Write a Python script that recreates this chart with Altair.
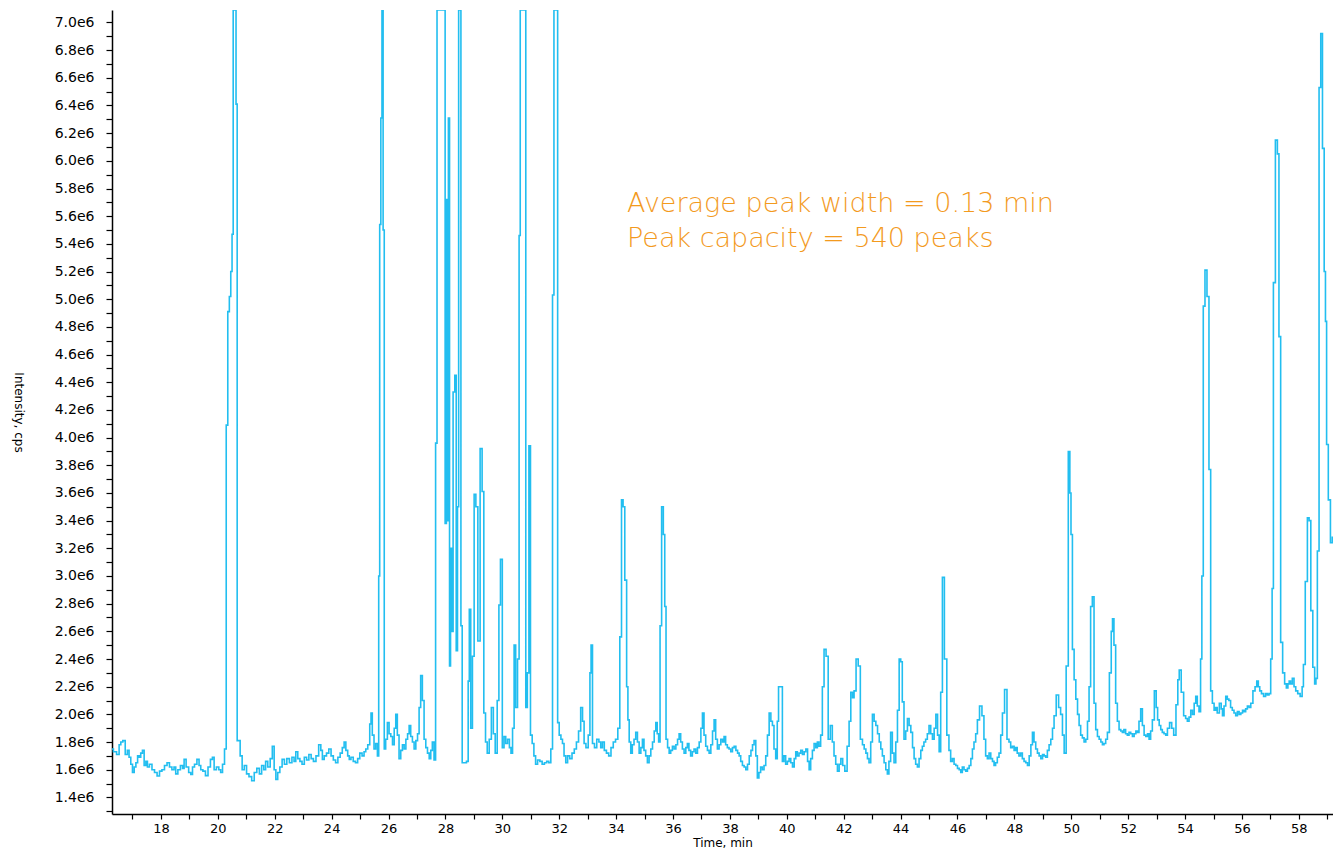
import altair as alt
import pandas as pd

# Chromatogram readings: (time in min, intensity in millions of cps)
seg_start = [
    (16.28, 1.75), (16.38, 1.73), (16.50, 1.71), (16.56, 1.78), (16.62, 1.80), (16.70, 1.81),
    (16.79, 1.71), (16.85, 1.74), (16.91, 1.69), (16.97, 1.64), (17.03, 1.58), (17.09, 1.62),
    (17.15, 1.65), (17.21, 1.70), (17.26, 1.69), (17.32, 1.72), (17.38, 1.74), (17.44, 1.63),
    (17.50, 1.66), (17.55, 1.62), (17.64, 1.64), (17.73, 1.60), (17.82, 1.58), (17.91, 1.555),
    (17.99, 1.59), (18.08, 1.60), (18.17, 1.63), (18.26, 1.65), (18.34, 1.62), (18.43, 1.60),
    (18.49, 1.62), (18.55, 1.57), (18.64, 1.60), (18.73, 1.63), (18.79, 1.61), (18.84, 1.675),
    (18.93, 1.62), (19.02, 1.58), (19.08, 1.566), (19.14, 1.62), (19.22, 1.64), (19.31, 1.675),
    (19.37, 1.63), (19.43, 1.60), (19.52, 1.59), (19.61, 1.557), (19.70, 1.62), (19.78, 1.675),
    (19.84, 1.69), (19.90, 1.60), (20.00, 1.62), (20.07, 1.60), (20.13, 1.58), (20.20, 1.64),
]
peak_20 = [
    (20.27, 1.75), (20.32, 4.09), (20.38, 4.91), (20.43, 5.02), (20.48, 5.20), (20.52, 5.47),
    (20.56, 7.09), (20.62, 7.09), (20.66, 6.41), (20.70, 1.81),
]
seg_21_25 = [
    (20.75, 1.81), (20.82, 1.70), (20.89, 1.60), (20.97, 1.63), (21.05, 1.57), (21.14, 1.55),
    (21.24, 1.52), (21.32, 1.58), (21.42, 1.61), (21.50, 1.57), (21.58, 1.63), (21.65, 1.60),
    (21.71, 1.66), (21.80, 1.62), (21.88, 1.68), (21.95, 1.77), (22.01, 1.60), (22.07, 1.53),
    (22.14, 1.58), (22.22, 1.62), (22.30, 1.675), (22.38, 1.64), (22.47, 1.68), (22.56, 1.65),
    (22.65, 1.69), (22.71, 1.66), (22.77, 1.73), (22.85, 1.68), (22.92, 1.66), (23.00, 1.64),
    (23.08, 1.69), (23.16, 1.67), (23.24, 1.71), (23.32, 1.68), (23.40, 1.66), (23.50, 1.70),
    (23.59, 1.78), (23.65, 1.74), (23.70, 1.675), (23.78, 1.70), (23.86, 1.72), (23.94, 1.75),
    (24.02, 1.70), (24.10, 1.67), (24.18, 1.65), (24.26, 1.69), (24.34, 1.72), (24.41, 1.76),
    (24.47, 1.80), (24.53, 1.74), (24.60, 1.70), (24.64, 1.675), (24.72, 1.69), (24.80, 1.66),
    (24.88, 1.65), (24.95, 1.68), (25.03, 1.72), (25.11, 1.70), (25.17, 1.73), (25.23, 1.75),
    (25.31, 1.78), (25.37, 1.93), (25.40, 2.01), (25.46, 1.85), (25.52, 1.75), (25.58, 1.79),
    (25.64, 1.70),
]
peak_25 = [
    (25.67, 3.00), (25.71, 5.54), (25.75, 6.31), (25.79, 7.09), (25.83, 5.50), (25.87, 1.75),
]
seg_26_27 = [
    (25.93, 1.82), (25.99, 1.94), (26.05, 1.86), (26.11, 1.84), (26.17, 1.78), (26.23, 1.90),
    (26.28, 2.00), (26.34, 1.85), (26.40, 1.68), (26.46, 1.74), (26.52, 1.78), (26.58, 1.75),
    (26.64, 1.82), (26.70, 1.86), (26.75, 1.92), (26.81, 1.84), (26.87, 1.80), (26.93, 1.75),
    (26.99, 1.81), (27.05, 1.86), (27.10, 2.05), (27.16, 2.28), (27.22, 2.10), (27.28, 1.82),
    (27.34, 1.76), (27.40, 1.72), (27.46, 1.68), (27.51, 1.74), (27.57, 1.80), (27.63, 1.67),
]
cluster_28_33 = [
    (27.68, 3.96), (27.73, 7.09), (27.80, 7.09), (27.88, 7.09), (27.96, 7.09), (28.02, 3.38),
    (28.05, 5.72), (28.08, 3.40), (28.13, 6.31), (28.16, 2.35), (28.20, 3.20), (28.24, 2.60),
    (28.30, 4.33), (28.36, 4.45), (28.40, 2.46), (28.45, 3.50), (28.48, 7.09), (28.53, 7.09),
    (28.56, 2.64), (28.62, 1.65), (28.70, 1.65), (28.78, 1.66), (28.82, 2.24), (28.86, 2.76),
    (28.92, 1.90), (28.98, 2.42), (29.04, 3.59), (29.10, 3.50), (29.18, 2.53), (29.26, 3.92),
    (29.32, 3.61), (29.38, 2.01), (29.44, 1.80), (29.50, 1.72), (29.58, 1.82), (29.65, 2.05),
    (29.72, 1.86), (29.78, 1.72), (29.86, 2.10), (29.90, 2.79), (29.97, 3.12), (30.03, 1.76),
    (30.09, 1.84), (30.15, 1.79), (30.22, 1.82), (30.28, 1.76), (30.33, 1.72), (30.39, 1.90),
    (30.44, 2.50), (30.50, 2.05), (30.57, 2.40), (30.61, 5.46), (30.65, 7.09), (30.72, 7.09),
    (30.80, 7.09), (30.85, 2.05), (30.91, 2.30), (30.96, 3.94), (31.02, 1.85), (31.08, 1.79),
    (31.14, 1.70), (31.20, 1.64), (31.28, 1.67), (31.36, 1.66), (31.44, 1.64), (31.52, 1.65),
    (31.60, 1.66), (31.67, 1.65), (31.74, 1.75), (31.79, 5.03), (31.84, 7.09), (31.92, 7.09),
    (31.97, 1.94), (32.03, 1.85), (32.09, 1.82), (32.14, 1.79), (32.20, 1.70), (32.26, 1.65),
    (32.33, 1.70), (32.41, 1.68), (32.49, 1.72), (32.57, 1.75), (32.64, 1.80), (32.72, 1.88),
    (32.79, 2.05), (32.85, 1.95), (32.90, 1.79), (32.98, 1.76), (33.06, 1.85), (33.10, 2.30),
    (33.14, 2.50), (33.20, 1.79), (33.28, 1.76), (33.36, 1.82), (33.43, 1.80),
]
seg_34_39 = [
    (33.49, 1.76), (33.55, 1.80), (33.62, 1.74), (33.70, 1.72), (33.78, 1.70), (33.86, 1.76),
    (33.94, 1.80), (34.02, 1.82), (34.10, 1.90), (34.16, 2.56), (34.22, 3.55), (34.27, 3.50),
    (34.34, 2.97), (34.40, 2.20), (34.43, 1.96), (34.49, 1.80), (34.54, 1.72), (34.60, 1.78),
    (34.66, 1.82), (34.72, 1.87), (34.78, 1.80), (34.84, 1.72), (34.90, 1.76), (34.95, 1.82),
    (35.01, 1.74), (35.07, 1.70), (35.13, 1.65), (35.19, 1.70), (35.25, 1.75), (35.31, 1.80),
    (35.37, 1.88), (35.42, 1.94), (35.47, 1.86), (35.52, 1.80), (35.57, 2.64), (35.63, 3.50),
    (35.69, 3.30), (35.73, 2.78), (35.78, 1.82), (35.84, 1.76), (35.89, 1.72), (35.95, 1.74),
    (36.01, 1.77), (36.07, 1.75), (36.13, 1.78), (36.19, 1.82), (36.24, 1.86), (36.30, 1.80),
    (36.36, 1.75), (36.42, 1.72), (36.48, 1.76), (36.53, 1.79), (36.59, 1.74), (36.65, 1.70),
    (36.71, 1.73), (36.77, 1.75), (36.83, 1.72), (36.89, 1.76), (36.95, 1.80), (37.01, 1.90),
    (37.06, 2.01), (37.12, 1.85), (37.18, 1.77), (37.24, 1.74), (37.30, 1.72), (37.36, 1.78),
    (37.42, 1.88), (37.47, 1.96), (37.53, 1.82), (37.59, 1.75), (37.65, 1.78), (37.71, 1.82),
    (37.77, 1.80), (37.82, 1.84), (37.88, 1.78), (37.94, 1.76), (38.00, 1.75), (38.06, 1.73),
    (38.12, 1.76), (38.18, 1.77), (38.24, 1.74), (38.30, 1.72), (38.35, 1.70), (38.41, 1.66),
    (38.47, 1.63), (38.53, 1.62), (38.59, 1.60), (38.65, 1.64), (38.71, 1.70), (38.77, 1.74),
    (38.82, 1.78), (38.88, 1.81), (38.94, 1.70), (38.99, 1.54), (39.05, 1.58), (39.11, 1.62),
    (39.17, 1.60), (39.23, 1.63), (39.29, 1.70), (39.35, 1.85), (39.41, 2.01), (39.47, 1.95),
    (39.52, 1.92), (39.58, 1.75), (39.64, 1.68), (39.69, 1.95), (39.73, 2.20), (39.82, 2.20),
    (39.87, 1.66),
]
seg_40_51 = [
    (39.93, 1.70), (39.99, 1.64), (40.05, 1.66), (40.11, 1.68), (40.17, 1.65), (40.23, 1.62),
    (40.29, 1.68), (40.34, 1.73), (40.40, 1.70), (40.46, 1.72), (40.52, 1.74), (40.58, 1.71),
    (40.64, 1.73), (40.70, 1.75), (40.76, 1.66), (40.81, 1.60), (40.87, 1.68), (40.93, 1.74),
    (40.99, 1.79), (41.05, 1.76), (41.10, 1.80), (41.16, 1.77), (41.22, 1.85), (41.28, 2.20),
    (41.34, 2.47), (41.42, 2.42), (41.49, 1.82), (41.57, 1.92), (41.63, 1.80), (41.69, 1.70),
    (41.75, 1.64), (41.81, 1.59), (41.87, 1.64), (41.93, 1.68), (42.00, 1.63), (42.08, 1.59),
    (42.16, 1.77), (42.22, 1.95), (42.28, 2.16), (42.34, 2.12), (42.39, 2.17), (42.48, 2.40),
    (42.54, 2.35), (42.63, 1.82), (42.69, 1.78), (42.75, 1.75), (42.81, 1.72), (42.86, 1.68),
    (42.92, 1.65), (42.98, 1.80), (43.04, 2.00), (43.10, 1.95), (43.16, 1.92), (43.22, 1.86),
    (43.28, 1.80), (43.33, 1.75), (43.39, 1.70), (43.45, 1.65), (43.51, 1.60), (43.56, 1.57),
    (43.62, 1.66), (43.68, 1.87), (43.74, 1.72), (43.80, 1.65), (43.86, 1.80), (43.92, 2.03),
    (43.98, 2.40), (44.03, 2.38), (44.09, 2.09), (44.15, 1.82), (44.21, 1.88), (44.27, 1.97),
    (44.33, 1.92), (44.39, 1.87), (44.45, 1.76), (44.50, 1.68), (44.56, 1.64), (44.62, 1.62),
    (44.68, 1.68), (44.74, 1.74), (44.79, 1.77), (44.85, 1.80), (44.91, 1.82), (44.97, 1.86),
    (45.03, 1.92), (45.09, 1.86), (45.15, 1.82), (45.21, 1.90), (45.27, 2.00), (45.33, 1.85),
    (45.38, 1.73), (45.44, 2.16), (45.50, 2.99), (45.58, 2.40), (45.67, 1.85), (45.73, 1.74),
    (45.79, 1.66), (45.85, 1.68), (45.91, 1.64), (45.97, 1.63), (46.03, 1.61), (46.09, 1.60),
    (46.14, 1.58), (46.20, 1.62), (46.26, 1.60), (46.32, 1.59), (46.38, 1.61), (46.44, 1.63),
    (46.50, 1.68), (46.55, 1.75), (46.61, 1.80), (46.67, 1.86), (46.73, 1.96), (46.82, 2.06),
    (46.90, 1.99), (46.96, 1.82), (47.02, 1.70), (47.08, 1.68), (47.14, 1.72), (47.20, 1.68),
    (47.26, 1.66), (47.31, 1.63), (47.37, 1.65), (47.43, 1.69), (47.49, 1.72), (47.55, 1.85),
    (47.61, 2.01), (47.70, 2.18), (47.78, 1.82), (47.84, 1.80), (47.90, 1.76), (47.96, 1.77),
    (48.02, 1.74), (48.07, 1.76), (48.13, 1.72), (48.19, 1.70), (48.25, 1.72), (48.31, 1.68),
    (48.37, 1.66), (48.43, 1.65), (48.49, 1.63), (48.55, 1.70), (48.61, 1.78), (48.66, 1.87),
    (48.72, 1.80), (48.78, 1.75), (48.84, 1.72), (48.90, 1.70), (48.96, 1.68), (49.02, 1.71),
    (49.07, 1.70), (49.13, 1.69), (49.19, 1.74), (49.25, 1.78), (49.31, 1.82), (49.37, 1.90),
    (49.42, 1.99), (49.52, 2.14), (49.59, 2.05), (49.66, 2.00), (49.72, 1.85), (49.78, 1.72),
    (49.86, 2.35), (49.93, 3.90), (49.97, 3.60), (50.01, 3.30), (50.07, 2.47), (50.13, 2.25),
    (50.19, 2.11), (50.25, 2.00), (50.30, 1.92), (50.36, 1.85), (50.42, 1.83), (50.48, 1.80),
    (50.54, 1.82), (50.60, 1.95), (50.65, 2.20), (50.71, 2.78), (50.77, 2.85), (50.83, 2.08),
    (50.89, 1.89),
]
seg_51_59 = [
    (50.95, 1.84), (51.01, 1.82), (51.07, 1.80), (51.12, 1.78), (51.18, 1.79), (51.24, 1.82),
    (51.30, 1.87), (51.38, 2.30), (51.43, 2.60), (51.47, 2.69), (51.53, 2.50), (51.59, 2.08),
    (51.65, 1.95), (51.71, 1.89), (51.77, 1.88), (51.82, 1.87), (51.88, 1.89), (51.94, 1.86),
    (52.00, 1.85), (52.06, 1.87), (52.12, 1.86), (52.18, 1.84), (52.24, 1.86), (52.30, 1.88),
    (52.35, 1.87), (52.41, 1.95), (52.47, 2.04), (52.53, 1.92), (52.59, 1.85), (52.65, 1.84),
    (52.71, 1.86), (52.76, 1.82), (52.82, 1.88), (52.88, 1.96), (52.96, 2.17), (53.01, 2.05),
    (53.06, 1.96), (53.12, 1.92), (53.17, 1.89), (53.23, 1.87), (53.29, 1.86), (53.35, 1.85),
    (53.41, 1.90), (53.50, 1.94), (53.56, 1.90), (53.64, 1.85), (53.72, 2.07), (53.77, 2.25),
    (53.82, 2.32), (53.91, 2.16), (53.99, 1.99), (54.05, 1.97), (54.11, 1.95), (54.17, 1.98),
    (54.23, 2.03), (54.29, 2.00), (54.35, 2.08), (54.40, 2.13), (54.46, 2.06), (54.52, 2.02),
    (54.57, 2.40), (54.61, 3.00), (54.67, 4.95), (54.73, 5.21), (54.81, 5.02), (54.87, 3.77),
    (54.93, 2.17), (54.99, 2.08), (55.05, 2.03), (55.10, 2.05), (55.16, 2.01), (55.25, 2.08),
    (55.29, 2.04), (55.34, 1.99), (55.40, 2.06), (55.46, 2.13), (55.51, 2.11), (55.57, 2.10),
    (55.63, 2.05), (55.69, 2.03), (55.75, 2.01), (55.81, 1.99), (55.87, 2.02), (55.93, 2.00),
    (55.99, 2.01), (56.05, 2.03), (56.10, 2.02), (56.16, 2.04), (56.22, 2.06), (56.28, 2.05),
    (56.34, 2.08), (56.43, 2.17), (56.49, 2.20), (56.55, 2.24), (56.60, 2.20), (56.65, 2.17),
    (56.72, 2.15), (56.80, 2.13), (56.86, 2.15), (56.92, 2.14), (56.98, 2.15), (57.04, 2.40),
    (57.08, 2.91), (57.13, 5.12), (57.22, 6.15), (57.27, 6.05), (57.33, 4.73), (57.39, 2.52),
    (57.47, 2.30), (57.53, 2.22), (57.59, 2.19), (57.64, 2.22), (57.68, 2.24), (57.74, 2.22),
    (57.80, 2.26), (57.86, 2.20), (57.92, 2.17), (58.00, 2.15), (58.09, 2.13), (58.14, 2.20),
    (58.18, 2.36), (58.27, 2.96), (58.33, 3.42), (58.39, 3.40), (58.45, 2.75), (58.53, 2.34),
    (58.58, 2.22), (58.62, 2.26), (58.68, 3.18), (58.74, 6.53), (58.80, 6.92), (58.86, 6.09),
    (58.92, 5.20), (58.95, 4.84), (59.00, 3.95), (59.07, 3.55), (59.15, 3.24), (59.20, 3.28),
]

x_tick_values = list(range(17, 60))
y_tick_values = [round(1.3 + 0.1 * i, 1) for i in range(58)]
annotation_line_1 = "Average peak width = 0.13 min"
annotation_line_2 = "Peak capacity = 540 peaks"

segments = [seg_start, peak_20, seg_21_25, peak_25, seg_26_27, cluster_28_33,
            seg_34_39, seg_40_51, seg_51_59]
rows = [p for seg in segments for p in seg]
df = pd.DataFrame(rows, columns=["time", "intensity"])

FONT = "DejaVu Sans"
W, H = 1221, 804

line = alt.Chart(df).mark_line(
    color="#22BEF0", strokeWidth=1.6, interpolate="step", clip=True
).encode(
    x=alt.X(
        "time:Q",
        scale=alt.Scale(domain=[16.28, 59.2], nice=False, zero=False),
        axis=alt.Axis(
            title="Time, min",
            values=x_tick_values,
            labelExpr="datum.value % 2 == 0 ? datum.value : ''",
            grid=False,
            domainColor="#000000",
            domainWidth=1.5,
            tickColor="#000000",
            tickWidth=1.2,
            tickSize=5,
            labelFont=FONT,
            labelFontSize=13,
            labelColor="#000000",
            labelPadding=3,
            labelFlush=False,
            titleFont=FONT,
            titleFontSize=12,
            titleFontWeight="normal",
            titleColor="#000000",
            titlePadding=2,
        ),
    ),
    y=alt.Y(
        "intensity:Q",
        scale=alt.Scale(domain=[1.28, 7.09], nice=False, zero=False),
        axis=alt.Axis(
            title="Intensity, cps",
            values=y_tick_values,
            labelExpr="round(datum.value * 10) % 2 == 0 ? format(datum.value, '.1f') + 'e6' : ''",
            grid=False,
            domainColor="#000000",
            domainWidth=1.5,
            tickColor="#000000",
            tickWidth=1.2,
            tickSize=6,
            labelFont=FONT,
            labelFontSize=14,
            labelColor="#000000",
            labelPadding=12,
            labelFlush=False,
            titleFont=FONT,
            titleFontSize=12,
            titleFontWeight="normal",
            titleColor="#000000",
            titleAngle=90,
            titleX=-94,
            titleY=402,
            titleAlign="center",
            titleBaseline="middle",
        ),
    ),
)


def note(text, ypix):
    return alt.Chart(pd.DataFrame({"text": [text]})).mark_text(
        align="left", baseline="alphabetic", font=FONT, fontSize=27, fontWeight=200,
        color="#F39A1E"
    ).encode(text="text:N", x=alt.value(515), y=alt.value(ypix))


chart = alt.layer(
    line, note(annotation_line_1, 202), note(annotation_line_2, 237)
).properties(
    width=W, height=H,
    padding={"left": 112, "top": 10, "right": 0, "bottom": 40},
    autosize=alt.AutoSizeParams(type="none"),
    background="#ffffff",
).configure_view(stroke=None)

chart.save("out.html", embed_options={"renderer": "svg", "actions": False})
